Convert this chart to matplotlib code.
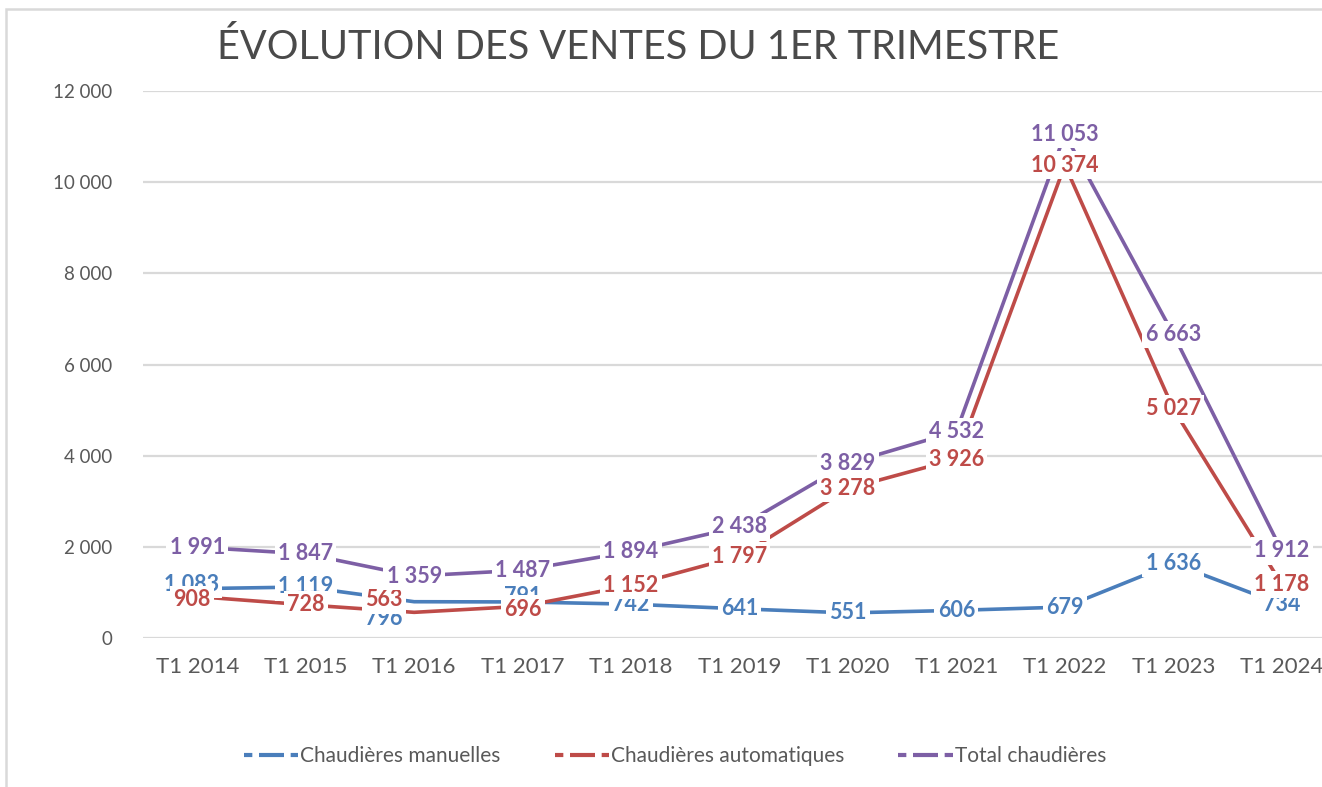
import matplotlib

matplotlib.use("Agg")
import matplotlib.pyplot as plt
from matplotlib.lines import Line2D
from matplotlib.patches import Rectangle

plt.rcParams["font.family"] = ["Lato", "DejaVu Sans"]

periods = ["T1 2014", "T1 2015", "T1 2016", "T1 2017", "T1 2018", "T1 2019",
           "T1 2020", "T1 2021", "T1 2022", "T1 2023", "T1 2024"]
manuelles = [1083, 1119, 796, 791, 742, 641, 551, 606, 679, 1636, 734]
automatiques = [908, 728, 563, 696, 1152, 1797, 3278, 3926, 10374, 5027, 1178]
total = [1991, 1847, 1359, 1487, 1894, 2438, 3829, 4532, 11053, 6663, 1912]
series_names = ["Chaudières manuelles", "Chaudières automatiques", "Total chaudières"]
y_ticks = [0, 2000, 4000, 6000, 8000, 10000, 12000]

colors = ["#4a7ebb", "#be4b48", "#7d5fa5"]
grey = "#595959"

# label nudges (points) where Excel labels were dragged off the point
nudges = {
    (0, 0): (-4, 3), (1, 0): (-4, -2),
    (0, 2): (-22, -12), (1, 2): (-22, 9),
    (0, 3): (0, 4), (1, 3): (0, -2),
}


def fmt(v):
    return f"{v:,}".replace(",", " ")


fig = plt.figure(figsize=(13.22, 7.87), dpi=100)
# chart frame (cut on the right like the screenshot)
fig.add_artist(Rectangle((6 / 1322, -0.01), 1.1, 1 - 9 / 787 + 0.01,
                         transform=fig.transFigure, fill=False,
                         edgecolor="#d9d9d9", lw=1.8))

ax = fig.add_axes([143 / 1322, 1 - 638 / 787, (1336 - 143) / 1322, (638 - 91) / 787])
x = list(range(len(periods)))
ax.set_xlim(-0.5, len(periods) - 0.5)
ax.set_ylim(0, 12000)
ax.set_yticks(y_ticks)
ax.set_yticklabels([fmt(v) for v in y_ticks], fontsize=13.5, color=grey)
ax.set_xticks(x)
ax.set_xticklabels(periods, fontsize=16, color=grey)
ax.tick_params(length=0)
ax.tick_params(axis="y", pad=22)
ax.tick_params(axis="x", pad=14)
for s in ax.spines.values():
    s.set_visible(False)
ax.grid(axis="y", color="#d9d9d9", lw=1.6)
ax.set_axisbelow(True)

all_series = [manuelles, automatiques, total]
for vals, c in zip(all_series, colors):
    ax.plot(x, vals, color=c, lw=2.6, solid_capstyle="butt", zorder=2, clip_on=False)

for si, (vals, c) in enumerate(zip(all_series, colors)):
    for i, v in enumerate(vals):
        dx, dy = nudges.get((si, i), (0, 0))
        ax.annotate(fmt(v), (i, v), xytext=(dx, dy), textcoords="offset points",
                    ha="center", va="center", fontsize=15.5, fontweight="bold",
                    color=c, zorder=5, annotation_clip=False,
                    bbox=dict(boxstyle="square,pad=0.15", fc="white", ec="none"))

fig.text(638 / 1322, 1 - 47 / 787, "ÉVOLUTION DES VENTES DU 1ER TRIMESTRE",
         ha="center", va="center", fontsize=28.5, color="#4a4a4a")

handles = [Line2D([], [], color=c, lw=3, ls=(0, (2.0, 1.6, 4.0, 0))) for c in colors]
fig.legend(handles, series_names, loc="center", bbox_to_anchor=(675 / 1322, 1 - 756 / 787),
           ncol=3, frameon=False, fontsize=15, labelcolor=grey, handlelength=2.6,
           handletextpad=0.1, columnspacing=2.6)

fig.savefig("out.png", dpi=100)
